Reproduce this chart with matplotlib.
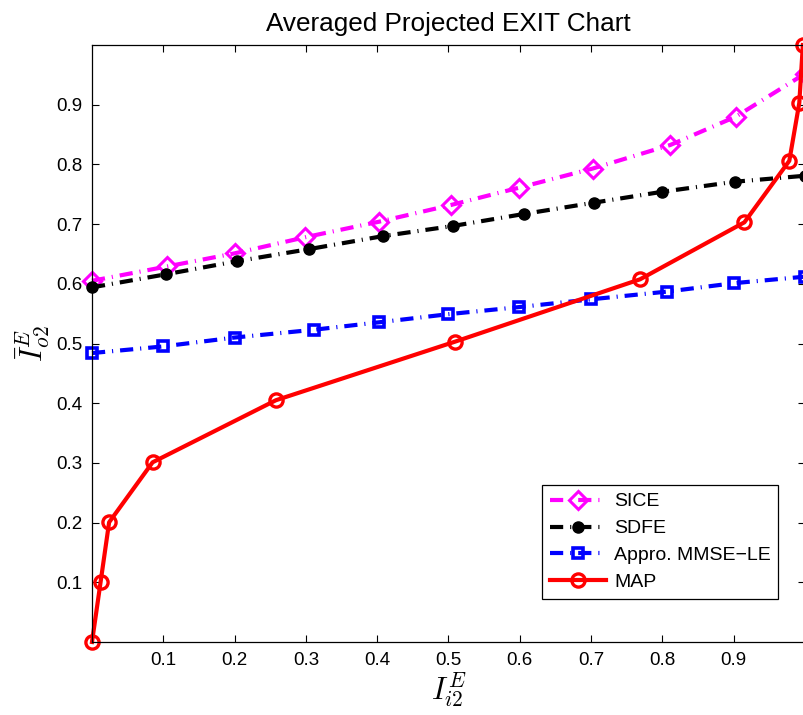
import matplotlib
matplotlib.use("Agg")
import matplotlib.pyplot as plt

plt.rcParams['font.family'] = ['Liberation Sans', 'DejaVu Sans']
plt.rcParams['mathtext.fontset'] = 'cm'
plt.rcParams['lines.scale_dashes'] = False

# EXIT curves: a-priori input (x) vs averaged extrinsic output (y)
sice_x = [0.0, 0.105, 0.200, 0.299, 0.4025, 0.5035, 0.599, 0.702, 0.811, 0.903, 1.0]
sice_y = [0.605, 0.629, 0.651, 0.678, 0.704, 0.732, 0.761, 0.793, 0.8325, 0.880, 0.952]

sdfe_x = [0.0, 0.104, 0.204, 0.304, 0.4086, 0.507, 0.606, 0.7045, 0.799, 0.902, 1.0]
sdfe_y = [0.594, 0.616, 0.638, 0.658, 0.680, 0.697, 0.717, 0.736, 0.754, 0.771, 0.781]

mmse_x = [0.0, 0.099, 0.200, 0.311, 0.4025, 0.499, 0.599, 0.700, 0.807, 0.900, 1.0]
mmse_y = [0.484, 0.495, 0.510, 0.523, 0.5355, 0.549, 0.561, 0.574, 0.587, 0.601, 0.612]

map_x = [0.0, 0.012, 0.024, 0.085, 0.258, 0.509, 0.7686, 0.915, 0.978, 0.992, 0.997]
map_y = [0.0, 0.100, 0.2005, 0.301, 0.405, 0.503, 0.6075, 0.703, 0.806, 0.903, 1.0]

tick_vals = [0.1, 0.2, 0.3, 0.4, 0.5, 0.6, 0.7, 0.8, 0.9]
tick_labels = ['0.1', '0.2', '0.3', '0.4', '0.5', '0.6', '0.7', '0.8', '0.9']

W, H = 804, 715
fig = plt.figure(figsize=(W / 100, H / 100), dpi=100)
ax = fig.add_axes([92 / W, (H - 642) / H, 713 / W, 597 / H])

dash_dot = (9.5, 5.0, 0.8, 5.0)
lw = 3.0

ax.plot(sice_x, sice_y, color='#ff00ff', lw=lw, dashes=dash_dot,
        marker='D', markersize=9.5, markerfacecolor='none',
        markeredgewidth=2.2, markeredgecolor='#ff00ff', label='SICE',
        clip_on=False)
ax.plot(sdfe_x, sdfe_y, color='black', lw=lw, dashes=dash_dot,
        marker='o', markersize=8, markerfacecolor='black',
        markeredgecolor='black', label='SDFE', clip_on=False)
ax.plot(mmse_x, mmse_y, color='#0000ff', lw=lw, dashes=dash_dot,
        marker='s', markersize=7.5, markerfacecolor='none',
        markeredgewidth=2.6, markeredgecolor='#0000ff', label='Appro. MMSE\u2212LE',
        clip_on=False)
ax.plot(map_x, map_y, color='#ff0000', lw=lw, linestyle='-',
        marker='o', markersize=9.5, markerfacecolor='none',
        markeredgewidth=2.4, markeredgecolor='#ff0000', label='MAP',
        clip_on=False)

ax.set_xlim(0, 1)
ax.set_ylim(0, 1)
ax.set_xticks(tick_vals)
ax.set_xticklabels(tick_labels)
ax.set_yticks(tick_vals)
ax.set_yticklabels(tick_labels)
ax.tick_params(direction='in', length=5, width=0.8, labelsize=13.5,
               top=True, right=True, pad=7)
for s in ax.spines.values():
    s.set_linewidth(0.9)

ax.set_title('Averaged Projected EXIT Chart', fontsize=18.8, pad=10)
ax.set_xlabel(r'$I_{i2}^{E}$', fontsize=22)
ax.set_ylabel(r'$\bar{I}_{o2}^{E}$', fontsize=22)
ax.xaxis.set_label_coords(0.5, (642 - 690) / 597)
ax.xaxis.label.set_va('center')
ax.yaxis.set_label_coords((33 - 92) / 713, 0.5)
ax.yaxis.label.set_va('center')

leg = ax.legend(loc='lower left', bbox_to_anchor=((542 - 92) / 713, (642 - 599) / 597),
                fontsize=14, frameon=True, fancybox=False, framealpha=1,
                edgecolor='black', handlelength=2.9, handletextpad=0.4,
                borderpad=0.4, labelspacing=0.48, borderaxespad=0)
leg.get_frame().set_linewidth(0.9)

fig.savefig('out.png', dpi=100)
